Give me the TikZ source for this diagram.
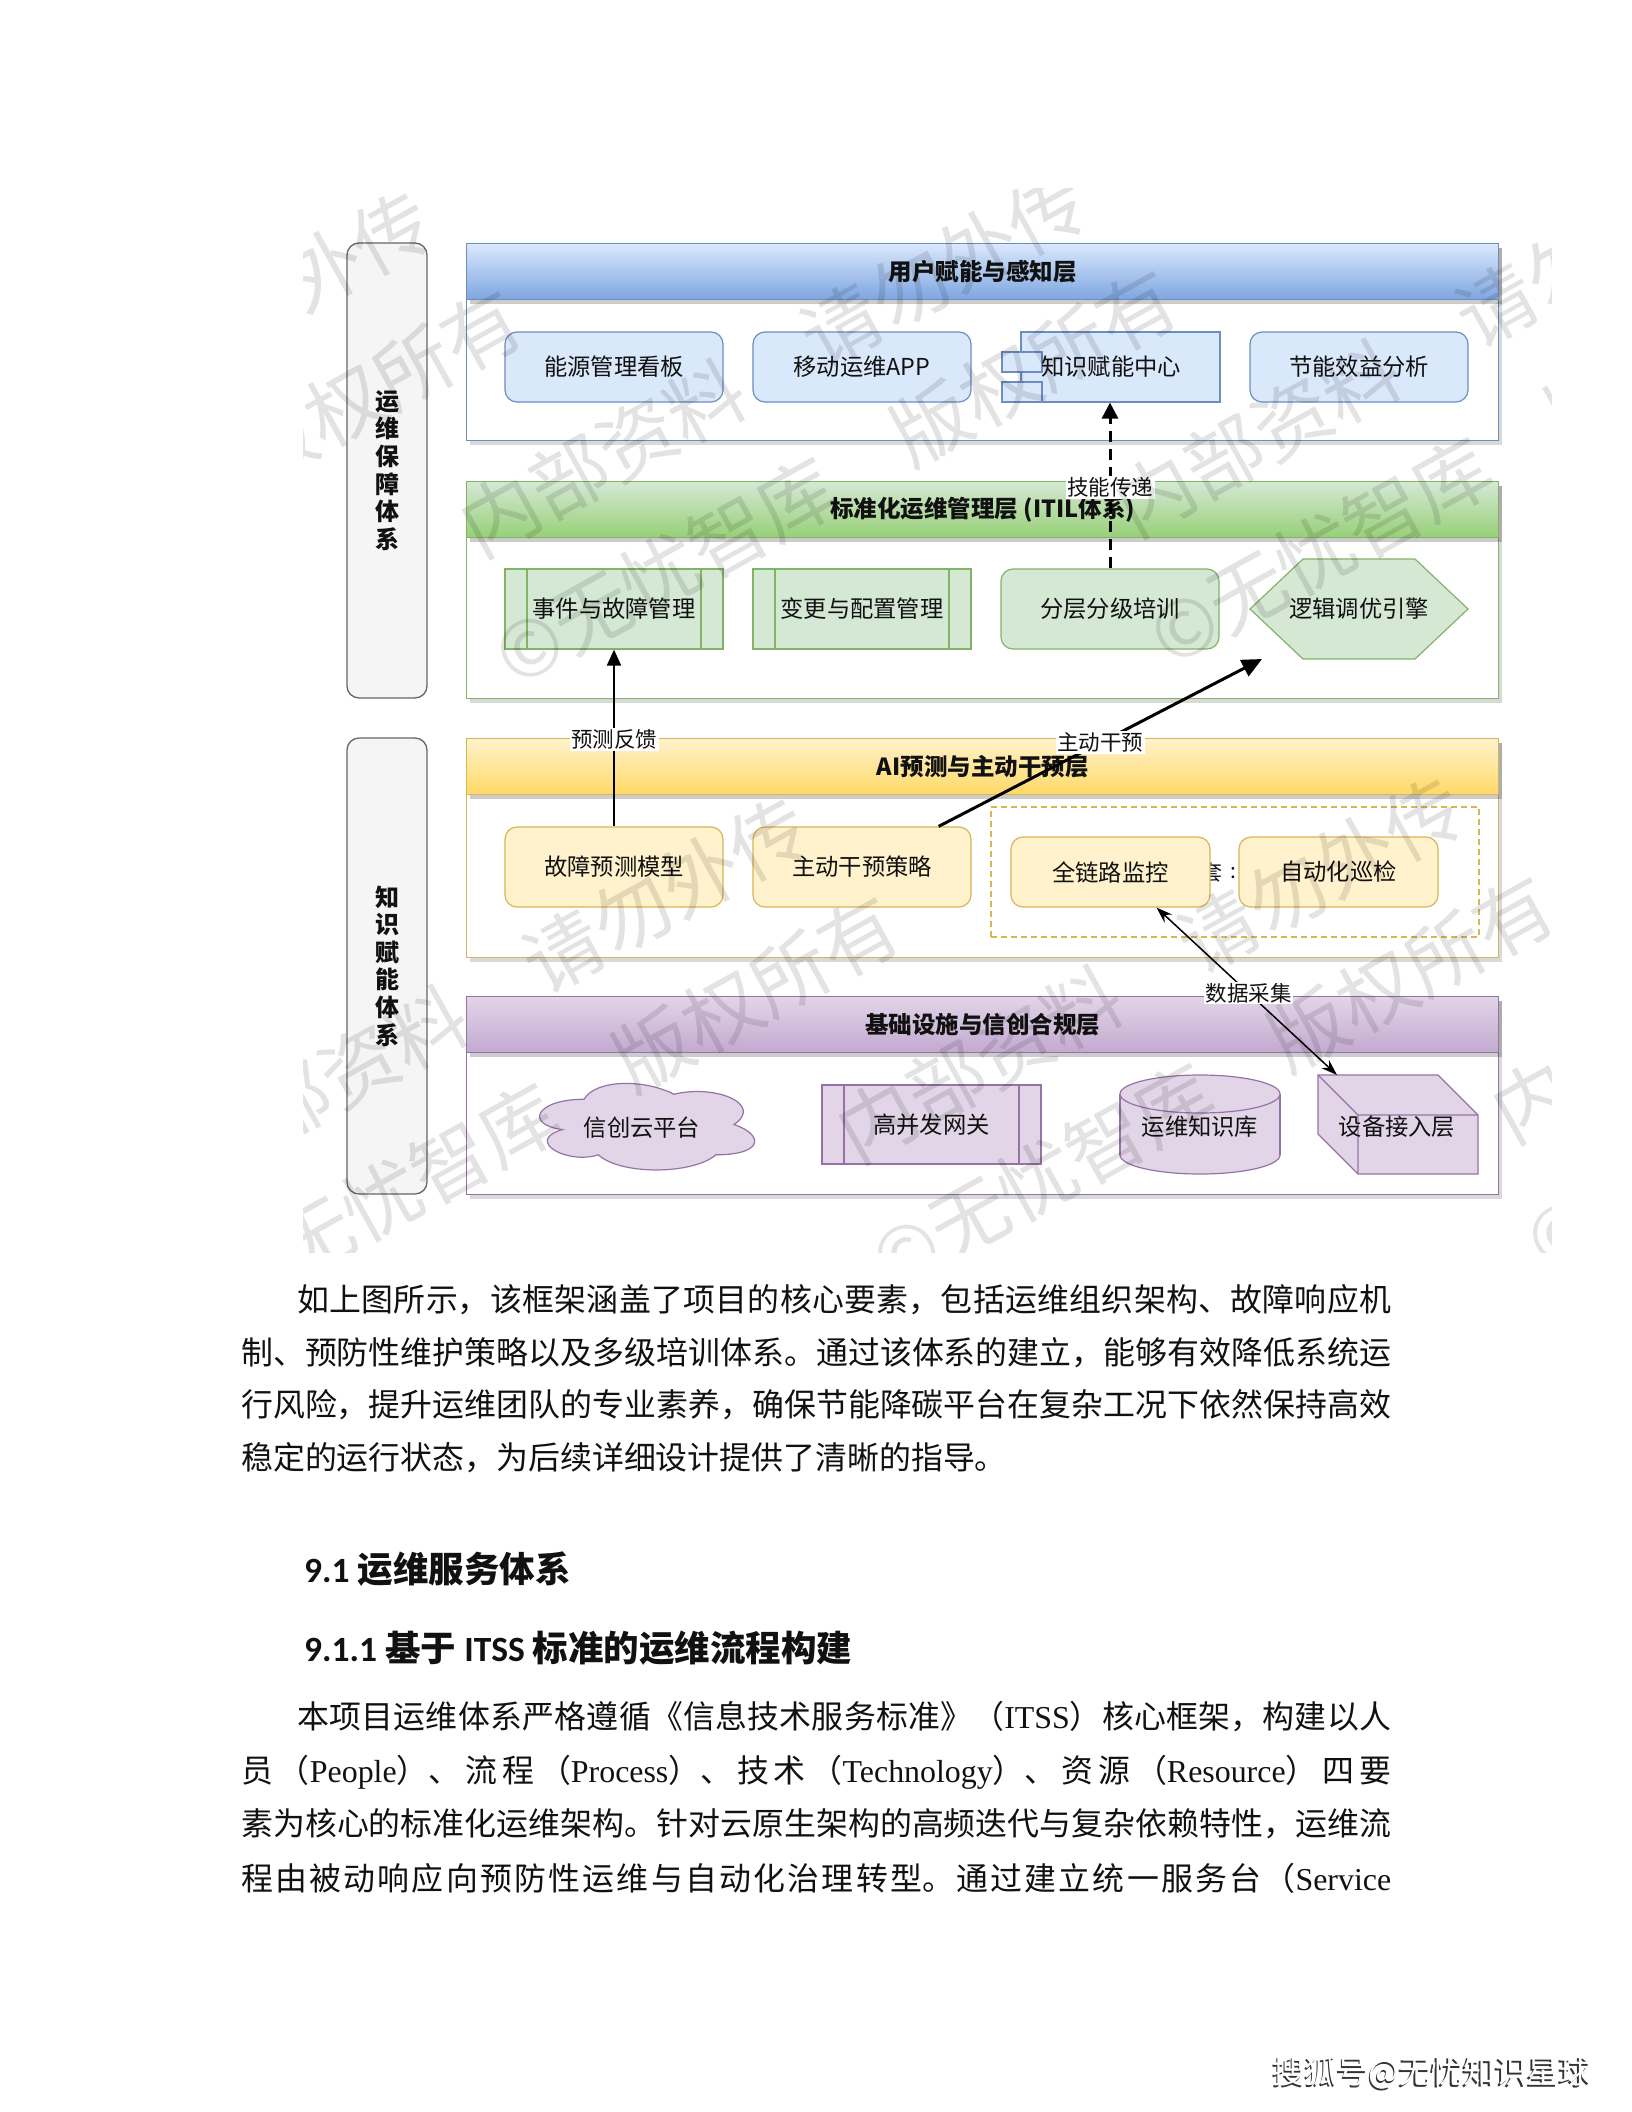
\documentclass[tikz,border=0pt]{standalone}
\usepackage{fontspec}
\usepackage{graphicx}
\setmainfont{Noto Sans CJK SC}
\newfontfamily\latserif{Liberation Serif}
\newfontfamily\headlat{Carlito}
\usetikzlibrary{arrows.meta,shadows,calc}
\XeTeXlinebreaklocale "zh"
\XeTeXlinebreakskip=0pt plus 10pt minus 1pt
\newcommand\myfs[1]{\fontsize{#1pt}{#1pt}\selectfont}
\newcommand\jl[2]{\parbox{#1}{\parfillskip=0pt\relax\leavevmode #2}}
\definecolor{bluefill}{HTML}{DAE8FC}
\definecolor{blueline}{HTML}{6C8EBF}
\definecolor{bluedark}{HTML}{7EA6E0}
\definecolor{greenfill}{HTML}{D5E8D4}
\definecolor{greenline}{HTML}{82B366}
\definecolor{greendark}{HTML}{97D077}
\definecolor{yellowfill}{HTML}{FFF2CC}
\definecolor{yellowline}{HTML}{D6B656}
\definecolor{yellowdark}{HTML}{FFD966}
\definecolor{purplefill}{HTML}{E1D5E7}
\definecolor{purpleline}{HTML}{9673A6}
\definecolor{purpledark}{HTML}{C3A9D1}
\definecolor{sidefill}{HTML}{F5F5F5}
\definecolor{sideline}{HTML}{666666}
\definecolor{txt}{HTML}{111111}
\tikzset{
  every node/.append style={text=txt},
  layerbody/.style={draw=#1, line width=1.3pt, fill=white, anchor=north west,
    minimum width=1032pt, inner sep=0pt,
    drop shadow={shadow xshift=3pt, shadow yshift=-4pt, opacity=0.15, fill=black}},
  layerhead/.style n args={3}{draw=#1, top color=#2, bottom color=#3, line width=1.3pt,
    anchor=north west, minimum width=1032pt, minimum height=56pt, inner sep=0pt,
    font=\bfseries\myfs{23.5},
    drop shadow={shadow xshift=3pt, shadow yshift=-4pt, opacity=0.2, fill=black}},
  sidebox/.style={draw=sideline, fill=sidefill, rounded corners=12pt, line width=1.3pt,
    minimum width=80pt, align=center, inner sep=0pt,
    font=\bfseries\fontsize{24pt}{27.6pt}\selectfont},
  roundbox/.style 2 args={draw=#1, fill=#2, rounded corners=12pt, line width=1.2pt,
    minimum width=218pt, minimum height=70pt, inner sep=0pt, font=\myfs{23.3}},
  procbox/.style 2 args={draw=#1, fill=#2, line width=1.2pt,
    minimum width=218pt, minimum height=80pt, inner sep=0pt, font=\myfs{23.3},
    path picture={\draw[#1, line width=1.2pt]
      ([xshift=22pt]path picture bounding box.north west) -- ([xshift=22pt]path picture bounding box.south west)
      ([xshift=-22pt]path picture bounding box.north east) -- ([xshift=-22pt]path picture bounding box.south east);}},
  plaintext/.style={inner sep=0pt, font=\myfs{23.3}},
  shapeline/.style 2 args={draw=#1, fill=#2, line width=1.2pt},
  elabel/.style={fill=white, inner sep=1.5pt, font=\myfs{21.5}},
  flow/.style={draw=black, line width=#1},
  bodytxt/.style={anchor=west, inner sep=0pt, font=\myfs{31.9}},
  headtxt/.style={anchor=west, inner sep=0pt, font=\bfseries\myfs{35.5}},
  wmw/.style={rotate=29, text=black, text opacity=0.11, inner sep=0pt,
    font=\myfs{78}},
}
\begin{document}
\begin{tikzpicture}[x=1pt,y=-1pt]
\useasboundingbox (0,0) rectangle (1632,2112);
\fill[white] (0,0) rectangle (1632,2112);

% side boxes
\node[sidebox, minimum height=455pt] (s1) at (387,470.5) {运\\维\\保\\障\\体\\系};
\node[sidebox, minimum height=456pt] (s2) at (387,966) {知\\识\\赋\\能\\体\\系};

% layers
\node[layerbody=blueline, minimum height=197pt] (L1) at (466,243) {};
\node[layerhead={blueline}{bluefill}{bluedark}] (H1) at (466,243) {用户赋能与感知层};
\node[layerbody=greenline, minimum height=217pt] (L2) at (466,481) {};
\node[layerhead={greenline}{greenfill}{greendark}] (H2) at (466,481) {标准化运维管理层 (ITIL体系)};
\node[layerbody=yellowline, minimum height=219pt] (L3) at (466,738) {};
\node[layerhead={yellowline}{yellowfill}{yellowdark}] (H3) at (466,738) {AI预测与主动干预层};
\node[layerbody=purpleline, minimum height=198pt] (L4) at (466,996) {};
\node[layerhead={purpleline}{purplefill}{purpledark}] (H4) at (466,996) {基础设施与信创合规层};

% blue row
\node[roundbox={blueline}{bluefill}] (b1) at (614,367) {能源管理看板};
\node[roundbox={blueline}{bluefill}] (b2) at (862,367) {移动运维APP};
\node[shapeline={blueline}{bluefill}, minimum width=199pt, minimum height=70pt, inner sep=0pt] (kc) at (1120.5,367) {};
\node[shapeline={blueline}{bluefill}, minimum width=40pt, minimum height=20pt, inner sep=0pt] (kt1) at (1022,362) {};
\node[shapeline={blueline}{bluefill}, minimum width=40pt, minimum height=20pt, inner sep=0pt] (kt2) at (1022,392) {};
\node[plaintext] (kct) at (1111,367) {知识赋能中心};
\node[roundbox={blueline}{bluefill}] (b4) at (1359,367) {节能效益分析};

% green row
\node[procbox={greenline}{greenfill}] (g1) at (614,609) {事件与故障管理};
\node[procbox={greenline}{greenfill}] (g2) at (862,609) {变更与配置管理};
\node[roundbox={greenline}{greenfill}, minimum height=80pt] (g3) at (1110,609) {分层分级培训};
\draw[shapeline={greenline}{greenfill}] (1250,609) -- (1303,559) -- (1415,559) -- (1468,609) -- (1415,659) -- (1303,659) -- cycle;
\node[plaintext] (g4) at (1359,609) {逻辑调优引擎};

% yellow row
\node[roundbox={yellowline}{yellowfill}, minimum height=80pt] (y1) at (614,867) {故障预测模型};
\node[roundbox={yellowline}{yellowfill}, minimum height=80pt] (y2) at (862,867) {主动干预策略};
\node[draw=yellowline, line width=1.2pt, dash pattern=on 6pt off 4pt, minimum width=488pt, minimum height=130pt, inner sep=0pt] (dz) at (1235,872) {};
\node[plaintext, font=\myfs{21}] (frag1) at (1212,873) {套};
\node[plaintext, font=\myfs{21}] (frag2) at (1233,873) {:};
\node[roundbox={yellowline}{yellowfill}, minimum width=199pt] (y3) at (1110.5,872) {全链路监控};
\node[roundbox={yellowline}{yellowfill}, minimum width=199pt] (y4) at (1338.5,872) {自动化巡检};

% purple row
\draw[shapeline={purpleline}{purplefill}, shift={(524,1074)}, x=240pt, y=-101pt]
  (0.25,0.25) .. controls (0.05,0.25) and (0,0.5) .. (0.16,0.55)
  .. controls (0,0.66) and (0.18,0.9) .. (0.31,0.8)
  .. controls (0.4,1) and (0.7,1) .. (0.8,0.8)
  .. controls (1,0.8) and (1,0.6) .. (0.875,0.5)
  .. controls (1,0.3) and (0.8,0.1) .. (0.625,0.2)
  .. controls (0.5,0.05) and (0.3,0.05) .. (0.25,0.25) -- cycle;
\node[plaintext] (pc) at (642,1128) {信创云平台};
\node[procbox={purpleline}{purplefill}, minimum width=219pt, minimum height=79pt] (pp) at (931.5,1124.5) {高并发网关};
\filldraw[shapeline={purpleline}{purplefill}] (1200,1155) ellipse [x radius=80, y radius=19];
\fill[purplefill] (1120,1094) rectangle (1280,1155);
\draw[purpleline, line width=1.2pt] (1120,1094) -- (1120,1155) (1280,1094) -- (1280,1155);
\filldraw[shapeline={purpleline}{purplefill}] (1200,1094) ellipse [x radius=80, y radius=19];
\node[plaintext] (pk) at (1200,1127) {运维知识库};
\draw[shapeline={purpleline}{purplefill}] (1318,1075) -- (1438,1075) -- (1478,1115) -- (1478,1174) -- (1358,1174) -- (1318,1134) -- cycle;
\draw[purpleline, line width=1.2pt] (1318,1075) -- (1358,1115) -- (1478,1115) (1358,1115) -- (1358,1174);
\node[plaintext] (pd) at (1397,1127) {设备接入层};
\coordinate (cubetop) at (1337,1075);

% connectors
\draw[flow=2pt, -{Triangle[length=16pt,width=14pt]}] (y1.north) -- (g1.south) node[elabel, pos=0.49] (lab1) {预测反馈};
\coordinate (hexin) at (1262,659);
\draw[flow=3pt, -{Triangle[length=20pt,width=18pt]}] ($(y2.north east)+(-33,0)$) -- (hexin) node[elabel, pos=0.5] (lab2) {主动干预};
\draw[flow=3pt, dash pattern=on 11pt off 7pt, -{Triangle[length=16pt,width=16pt]}] (g3.north) -- (g3.north |- kc.south) node[elabel, pos=0.49] (lab3) {技能传递};
\draw[flow=1.5pt, {Stealth[length=16pt,width=11pt]}-{Stealth[length=16pt,width=11pt]}] ($(y3.south)+(46,0)$) -- (cubetop) node[elabel, pos=0.51] (lab4) {数据采集};

% watermark
\begin{scope}
\clip (303,188) rectangle (1551,1252);
\foreach \wx/\wy/\wt [count=\i] in {
  289/289/请勿外传, 379/387/版权所有,
  603/458/内部资料, 944/269/请勿外传, 666/571/©无忧智库, 1034/367/版权所有,
  1258/438/内部资料, 1599/249/请勿外传, 1321/551/©无忧智库, 1689/347/版权所有,
  325/1084/内部资料, 666/895/请勿外传, 388/1197/©无忧智库, 756/993/版权所有,
  980/1064/内部资料, 1321/875/请勿外传, 1043/1177/©无忧智库, 1411/973/版权所有,
  1635/1044/内部资料, 1698/1157/©无忧智库}
  \node[wmw] (wm\i) at (\wx,\wy) {\wt};
\end{scope}

% body text
\node[bodytxt] (p1a) at (297,1300) {\jl{1094pt}{如上图所示，该框架涵盖了项目的核心要素，包括运维组织架构、故障响应机}};
\node[bodytxt] (p1b) at (241,1353) {\jl{1150pt}{制、预防性维护策略以及多级培训体系。通过该体系的建立，能够有效降低系统运}};
\node[bodytxt] (p1c) at (241,1405) {\jl{1150pt}{行风险，提升运维团队的专业素养，确保节能降碳平台在复杂工况下依然保持高效}};
\node[bodytxt] (p1d) at (241,1458) {稳定的运行状态，为后续详细设计提供了清晰的指导。};

\node[headtxt] (h1) at (304,1569) {{\headlat 9.1} 运维服务体系};
\node[headtxt] (h2) at (304,1648) {{\headlat 9.1.1} 基于 {\headlat ITSS} 标准的运维流程构建};

\node[bodytxt] (p2a) at (297,1717) {\jl{1094pt}{本项目运维体系严格遵循《信息技术服务标准》（{\latserif ITSS}）核心框架，构建以人}};
\node[bodytxt] (p2b) at (241,1772) {\jl{1150pt}{员（{\latserif People}）、流程（{\latserif Process}）、技术（{\latserif Technology}）、资源（{\latserif Resource}）四要}};
\node[bodytxt] (p2c) at (241,1824) {\jl{1150pt}{素为核心的标准化运维架构。针对云原生架构的高频迭代与复杂依赖特性，运维流}};
\node[bodytxt] (p2d) at (241,1878) {\jl{1150pt}{程由被动响应向预防性运维与自动化治理转型。通过建立统一服务台（{\latserif Service}}};

% footer mark
\node[font=\myfs{32}, text=black!80, inner sep=0pt] (footsh) at (1430.5,2074.5) {搜狐号@无忧知识星球};
\node[font=\myfs{32}, text=white, inner sep=0pt] (foot) at (1432,2073) {搜狐号@无忧知识星球};
\end{tikzpicture}
\end{document}
